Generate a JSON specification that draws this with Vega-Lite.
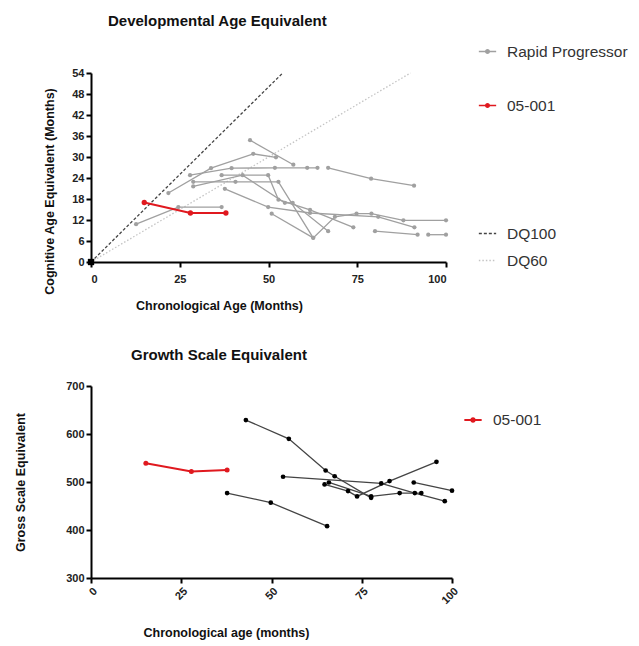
{
  "$schema": "https://vega.github.io/schema/vega-lite/v6.json",
  "background": "white",
  "padding": {"left": 14, "top": 14, "right": 5, "bottom": 5},
  "datasets": {
    "top": [
      {"id": "S1", "group": "Rapid Progressor", "x": 12.7, "y": 10.8},
      {"id": "S1", "group": "Rapid Progressor", "x": 24.6, "y": 15.7},
      {"id": "S1", "group": "Rapid Progressor", "x": 36.8, "y": 15.7},
      {"id": "S2", "group": "Rapid Progressor", "x": 21.8, "y": 19.7},
      {"id": "S2", "group": "Rapid Progressor", "x": 33.8, "y": 26.8},
      {"id": "S2", "group": "Rapid Progressor", "x": 45.7, "y": 30.9},
      {"id": "S2", "group": "Rapid Progressor", "x": 52.1, "y": 29.9},
      {"id": "S3", "group": "Rapid Progressor", "x": 27.9, "y": 24.8},
      {"id": "S3", "group": "Rapid Progressor", "x": 39.6, "y": 26.8},
      {"id": "S3", "group": "Rapid Progressor", "x": 51.8, "y": 26.9},
      {"id": "S3", "group": "Rapid Progressor", "x": 60.9, "y": 26.9},
      {"id": "S3", "group": "Rapid Progressor", "x": 63.8, "y": 26.9},
      {"id": "S4", "group": "Rapid Progressor", "x": 66.8, "y": 26.9},
      {"id": "S4", "group": "Rapid Progressor", "x": 78.9, "y": 23.8},
      {"id": "S4", "group": "Rapid Progressor", "x": 91.0, "y": 21.8},
      {"id": "S5", "group": "Rapid Progressor", "x": 44.8, "y": 34.8},
      {"id": "S5", "group": "Rapid Progressor", "x": 57.0, "y": 27.8},
      {"id": "S6", "group": "Rapid Progressor", "x": 28.8, "y": 22.9},
      {"id": "S6", "group": "Rapid Progressor", "x": 40.7, "y": 22.9},
      {"id": "S6", "group": "Rapid Progressor", "x": 52.8, "y": 22.9},
      {"id": "S6", "group": "Rapid Progressor", "x": 62.6, "y": 6.9},
      {"id": "S6", "group": "Rapid Progressor", "x": 68.7, "y": 12.9},
      {"id": "S6", "group": "Rapid Progressor", "x": 74.8, "y": 13.8},
      {"id": "S6", "group": "Rapid Progressor", "x": 79.0, "y": 13.8},
      {"id": "S6", "group": "Rapid Progressor", "x": 88.0, "y": 11.9},
      {"id": "S6", "group": "Rapid Progressor", "x": 100.0, "y": 11.9},
      {"id": "S7", "group": "Rapid Progressor", "x": 36.8, "y": 24.8},
      {"id": "S7", "group": "Rapid Progressor", "x": 49.9, "y": 24.8},
      {"id": "S7", "group": "Rapid Progressor", "x": 52.8, "y": 17.8},
      {"id": "S7", "group": "Rapid Progressor", "x": 61.7, "y": 14.9},
      {"id": "S7", "group": "Rapid Progressor", "x": 73.9, "y": 9.9},
      {"id": "S8", "group": "Rapid Progressor", "x": 37.7, "y": 20.9},
      {"id": "S8", "group": "Rapid Progressor", "x": 49.9, "y": 15.7},
      {"id": "S8", "group": "Rapid Progressor", "x": 61.7, "y": 14.0},
      {"id": "S8", "group": "Rapid Progressor", "x": 80.9, "y": 12.9},
      {"id": "S8", "group": "Rapid Progressor", "x": 91.1, "y": 9.9},
      {"id": "S9", "group": "Rapid Progressor", "x": 28.8, "y": 21.6},
      {"id": "S9", "group": "Rapid Progressor", "x": 42.7, "y": 24.8},
      {"id": "S9", "group": "Rapid Progressor", "x": 54.6, "y": 16.9},
      {"id": "S9", "group": "Rapid Progressor", "x": 56.8, "y": 16.9},
      {"id": "S9", "group": "Rapid Progressor", "x": 66.8, "y": 8.8},
      {"id": "S10", "group": "Rapid Progressor", "x": 50.9, "y": 13.8},
      {"id": "S10", "group": "Rapid Progressor", "x": 62.6, "y": 6.9},
      {"id": "S11", "group": "Rapid Progressor", "x": 80.0, "y": 8.8},
      {"id": "S11", "group": "Rapid Progressor", "x": 92.0, "y": 7.8},
      {"id": "S12", "group": "Rapid Progressor", "x": 95.0, "y": 7.8},
      {"id": "S12", "group": "Rapid Progressor", "x": 100.0, "y": 7.8},
      {"id": "R", "group": "05-001", "x": 15.0, "y": 17.0},
      {"id": "R", "group": "05-001", "x": 28.0, "y": 14.0},
      {"id": "R", "group": "05-001", "x": 38.0, "y": 14.0}
    ],
    "dq": [
      {"line": "DQ100", "x": 0, "y": 0},
      {"line": "DQ100", "x": 54, "y": 54},
      {"line": "DQ60", "x": 0, "y": 0},
      {"line": "DQ60", "x": 90, "y": 54}
    ],
    "origin": [{"x": 0, "y": 0}],
    "bottom": [
      {"id": "B1", "group": "other", "x": 37.7, "y": 477},
      {"id": "B1", "group": "other", "x": 49.8, "y": 457},
      {"id": "B1", "group": "other", "x": 65.4, "y": 408},
      {"id": "B2", "group": "other", "x": 42.9, "y": 629},
      {"id": "B2", "group": "other", "x": 54.8, "y": 590},
      {"id": "B2", "group": "other", "x": 65.0, "y": 524},
      {"id": "B2", "group": "other", "x": 67.5, "y": 512},
      {"id": "B2", "group": "other", "x": 77.6, "y": 467},
      {"id": "B3", "group": "other", "x": 53.2, "y": 511},
      {"id": "B3", "group": "other", "x": 80.4, "y": 497},
      {"id": "B3", "group": "other", "x": 89.7, "y": 477},
      {"id": "B3", "group": "other", "x": 98.0, "y": 460},
      {"id": "B4", "group": "other", "x": 64.7, "y": 495},
      {"id": "B4", "group": "other", "x": 71.2, "y": 481},
      {"id": "B4", "group": "other", "x": 73.7, "y": 470},
      {"id": "B4", "group": "other", "x": 82.7, "y": 502},
      {"id": "B4", "group": "other", "x": 95.7, "y": 542},
      {"id": "B5", "group": "other", "x": 65.9, "y": 499},
      {"id": "B5", "group": "other", "x": 77.6, "y": 470},
      {"id": "B5", "group": "other", "x": 85.5, "y": 477},
      {"id": "B5", "group": "other", "x": 91.5, "y": 477},
      {"id": "B6", "group": "other", "x": 89.4, "y": 499},
      {"id": "B6", "group": "other", "x": 100.0, "y": 482},
      {"id": "R", "group": "05-001", "x": 15.2, "y": 539},
      {"id": "R", "group": "05-001", "x": 27.8, "y": 522},
      {"id": "R", "group": "05-001", "x": 37.7, "y": 525}
    ]
  },
  "spacing": 36,
  "vconcat": [
    {
      "width": 355,
      "height": 189,
      "title": {"text": "Developmental Age Equivalent", "anchor": "start", "frame": "group", "dx": 17, "offset": 13, "fontSize": 15, "fontWeight": "bold", "font": "Liberation Sans", "color": "#111"},
      "encoding": {
        "x": {"field": "x", "type": "quantitative", "scale": {"domain": [0, 100], "nice": false},
          "axis": {"values": [0, 25, 50, 75, 100], "title": "Chronological Age (Months)", "titleX": 128, "labelAngle": 0, "labelPadding": 6, "titlePadding": 15}},
        "y": {"field": "y", "type": "quantitative", "scale": {"domain": [0, 54], "nice": false},
          "axis": {"values": [0, 6, 12, 18, 24, 30, 36, 42, 48, 54], "title": "Cognitive Age Equivalent (Months)", "titleY": 118, "titlePadding": 15}}
      },
      "layer": [
        {
          "data": {"name": "dq"},
          "mark": {"type": "line", "strokeWidth": 1.3},
          "encoding": {
            "stroke": {"field": "line", "type": "nominal", "scale": {"domain": ["DQ100", "DQ60"], "range": ["#444444", "#c4c4c4"]},
              "legend": {"title": null, "orient": "none", "legendX": 387, "legendY": 151, "rowPadding": 9, "symbolType": "stroke", "symbolSize": 300, "symbolStrokeWidth": 1.5}},
            "strokeDash": {"field": "line", "type": "nominal", "scale": {"domain": ["DQ100", "DQ60"], "range": [[3, 2], [1.5, 2]]},
              "legend": {"title": null, "orient": "none", "legendX": 387, "legendY": 151, "rowPadding": 9, "symbolType": "stroke", "symbolSize": 300, "symbolStrokeWidth": 1.5}}
          }
        },
        {
          "data": {"name": "origin"},
          "mark": {"type": "square", "filled": true, "color": "#000", "size": 40, "opacity": 1}
        },
        {
          "data": {"name": "top"},
          "transform": [{"filter": "datum.group == 'Rapid Progressor'"}],
          "mark": {"type": "line", "strokeWidth": 1.3, "point": {"filled": true, "size": 18, "color": "#777777"}},
          "encoding": {
            "detail": {"field": "id"},
            "color": {"field": "group", "type": "nominal", "scale": {"domain": ["Rapid Progressor", "05-001"], "range": ["#a0a0a0", "#e0191f"]},
              "legend": {"title": null, "orient": "none", "legendX": 387, "legendY": -31, "rowPadding": 36, "symbolType": "M-1,0H1M0.2,0A0.2,0.2,0,1,1,-0.2,0A0.2,0.2,0,1,1,0.2,0", "symbolSize": 300, "symbolStrokeWidth": 1.6}}
          }
        },
        {
          "data": {"name": "top"},
          "transform": [{"filter": "datum.group == '05-001'"}],
          "mark": {"type": "line", "strokeWidth": 2.2, "point": {"filled": true, "size": 28, "color": "#e0191f"}},
          "encoding": {
            "detail": {"field": "id"},
            "color": {"field": "group", "type": "nominal", "scale": {"domain": ["Rapid Progressor", "05-001"], "range": ["#a0a0a0", "#e0191f"]},
              "legend": {"title": null, "orient": "none", "legendX": 387, "legendY": -31, "rowPadding": 36, "symbolType": "M-1,0H1M0.2,0A0.2,0.2,0,1,1,-0.2,0A0.2,0.2,0,1,1,0.2,0", "symbolSize": 300, "symbolStrokeWidth": 1.6}}
          }
        }
      ]
    },
    {
      "width": 361,
      "height": 192,
      "title": {"text": "Growth Scale Equivalent", "anchor": "start", "frame": "group", "dx": 40, "offset": 17, "fontSize": 15, "fontWeight": "bold", "font": "Liberation Sans", "color": "#111"},
      "encoding": {
        "x": {"field": "x", "type": "quantitative", "scale": {"domain": [0, 100], "nice": false},
          "axis": {"values": [0, 25, 50, 75, 100], "title": "Chronological age (months)", "titleX": 135, "labelAngle": -45, "titlePadding": 21}},
        "y": {"field": "y", "type": "quantitative", "scale": {"domain": [300, 700], "nice": false, "zero": false},
          "axis": {"values": [300, 400, 500, 600, 700], "title": "Gross Scale Equivalent", "titlePadding": 38}}
      },
      "layer": [
        {
          "data": {"name": "bottom"},
          "transform": [{"filter": "datum.group == 'other'"}],
          "mark": {"type": "line", "strokeWidth": 1.3, "color": "#444444", "point": {"filled": true, "size": 22, "color": "#000000"}},
          "encoding": {"detail": {"field": "id"}}
        },
        {
          "data": {"name": "bottom"},
          "transform": [{"filter": "datum.group == '05-001'"}],
          "mark": {"type": "line", "strokeWidth": 2, "point": {"filled": true, "size": 25, "color": "#e0191f"}},
          "encoding": {
            "detail": {"field": "id"},
            "color": {"field": "group", "type": "nominal", "scale": {"domain": ["05-001"], "range": ["#e0191f"]},
              "legend": {"title": null, "orient": "none", "legendX": 372, "legendY": 24, "symbolType": "M-1,0H1M0.2,0A0.2,0.2,0,1,1,-0.2,0A0.2,0.2,0,1,1,0.2,0", "symbolSize": 300, "symbolStrokeWidth": 2}}
          }
        }
      ]
    }
  ],
  "resolve": {"scale": {"color": "independent"}, "legend": {"color": "independent"}},
  "config": {
    "view": {"stroke": null},
    "font": "Liberation Sans",
    "axis": {"domainColor": "#000", "domainWidth": 2, "tickColor": "#000", "tickWidth": 2, "tickSize": 5, "labelColor": "#222", "labelFont": "Liberation Sans", "labelFontSize": 11, "labelFontWeight": "bold", "titleFont": "Liberation Sans", "titleFontSize": 12.5, "titleFontWeight": "bold", "titleColor": "#111", "grid": false},
    "legend": {"labelFont": "Liberation Sans", "labelFontSize": 15.5, "labelColor": "#333", "labelOffset": 10}
  }
}
